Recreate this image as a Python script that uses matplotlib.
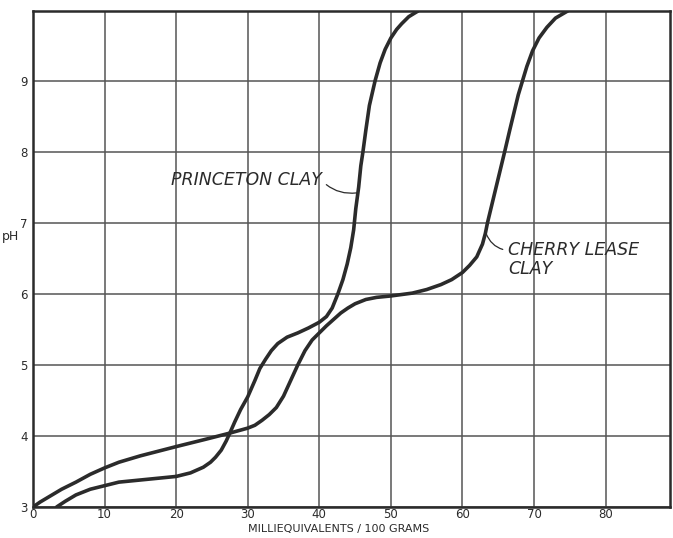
import matplotlib.pyplot as plt
import numpy as np

# Princeton clay titration curve (meq / 100 g, pH)
princeton_x = [3.3, 4.5, 6, 8, 10, 12, 15, 18, 20, 22, 23.8, 24.8, 25.5, 26.3, 27,
               27.5, 28.2, 29, 30, 31, 31.7, 32.5, 33.3, 34.2, 35.5, 37, 38.5, 40,
               41, 41.8, 42.6, 43.3, 43.9, 44.4, 44.8, 45.1, 45.5, 45.8, 46.1, 46.5,
               47.0, 47.8, 48.5, 49.2, 50, 50.8, 51.5, 52.5, 53.8]
princeton_ph = [3.0, 3.08, 3.17, 3.25, 3.30, 3.35, 3.38, 3.41, 3.43, 3.48, 3.56, 3.63,
                3.70, 3.80, 3.93, 4.04, 4.20, 4.37, 4.55, 4.78, 4.95, 5.08, 5.20, 5.30,
                5.39, 5.45, 5.52, 5.60, 5.68, 5.80, 6.0, 6.2, 6.42, 6.65, 6.9, 7.2,
                7.5, 7.8, 8.0, 8.3, 8.65, 9.0, 9.25, 9.44, 9.6, 9.72, 9.8, 9.9, 9.98]

# Cherry Lease clay titration curve
cherry_x = [0, 1, 2, 4, 6, 8, 10, 12, 15, 20, 24, 27.5, 30, 31, 32, 33, 34, 35, 36,
            37, 38, 39, 40, 41, 42, 43, 44, 45, 46.5, 48, 50, 53, 55, 57, 58.5, 60,
            61, 62, 62.8, 63.2, 63.5, 64.1, 64.7, 65.3, 65.9, 66.6, 67.2, 67.8, 68.4,
            69, 69.8, 70.7, 71.8, 73, 74.7]
cherry_ph = [3.0, 3.07, 3.13, 3.25, 3.35, 3.46, 3.55, 3.63, 3.72, 3.85, 3.95, 4.04,
             4.11, 4.15, 4.22, 4.30, 4.40, 4.56, 4.78, 5.0, 5.2, 5.35, 5.45, 5.55,
             5.64, 5.73, 5.80, 5.86, 5.92, 5.95, 5.97, 6.01, 6.06, 6.13, 6.2, 6.3,
             6.4, 6.52, 6.7, 6.85, 7.0, 7.25, 7.5, 7.75, 8.0, 8.3, 8.55, 8.8, 9.0,
             9.2, 9.42, 9.6, 9.75, 9.88, 9.98]

x_ticks = [0, 10, 20, 30, 40, 50, 60, 70, 80]
y_ticks = [3, 4, 5, 6, 7, 8, 9]

ink = '#2b2b2b'

fig = plt.figure(figsize=(6.73, 5.38), dpi=100)
ax = fig.add_axes([33 / 673, 31 / 538, 637 / 673, 496 / 538])

ax.set_xlim(0, 89)
ax.set_ylim(3, 9.98)

# grid
ax.set_xticks(x_ticks)
ax.set_yticks(y_ticks)
ax.grid(True, color='#555555', linewidth=1.1)
ax.set_axisbelow(True)
ax.tick_params(length=0, labelsize=8.5, colors=ink)
ax.tick_params(axis='x', pad=1)
ax.tick_params(axis='y', pad=4)
for s in ax.spines.values():
    s.set_color(ink)
    s.set_linewidth(1.8)

# curves
ax.plot(princeton_x, princeton_ph, color=ink, linewidth=2.6, solid_capstyle='round')
ax.plot(cherry_x, cherry_ph, color=ink, linewidth=2.6, solid_capstyle='round')

# labels
ax.annotate('PRINCETON CLAY', xy=(45.2, 7.42), xytext=(40.3, 7.6),
            ha='right', va='center', fontsize=12.5, style='italic', color=ink,
            arrowprops=dict(arrowstyle='-', color=ink, linewidth=0.9,
                            relpos=(1, 0.5), shrinkA=2, shrinkB=0,
                            connectionstyle='arc3,rad=0.25'))
ax.annotate('CHERRY LEASE\nCLAY', xy=(63.3, 6.85), xytext=(66.4, 6.48),
            ha='left', va='center', fontsize=12.5, style='italic', color=ink,
            linespacing=1.05,
            arrowprops=dict(arrowstyle='-', color=ink, linewidth=0.9,
                            relpos=(0, 0.75), shrinkA=2, shrinkB=0,
                            connectionstyle='arc3,rad=-0.3'))

ax.set_xlabel('MILLIEQUIVALENTS / 100 GRAMS', fontsize=8, color=ink, va='top')
ax.xaxis.set_label_coords(0.48, -0.035)
ax.set_ylabel('pH', fontsize=9, color=ink, rotation=0, va='center')
ax.yaxis.set_label_coords(-0.035, 0.545)

fig.savefig('out.png', dpi=100)
